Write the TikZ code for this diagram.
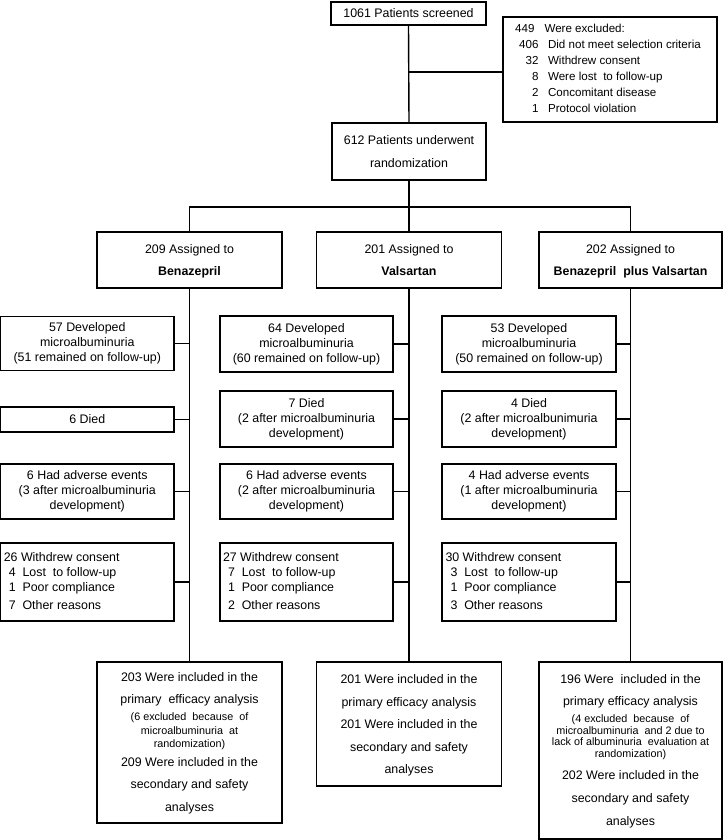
\documentclass[tikz,border=0pt]{standalone}
\usepackage{fontspec}
\setmainfont{Liberation Sans}
\newcommand\Rw[3]{\rule[-#2pt]{0pt}{\dimexpr#1pt+#2pt\relax}#3}
\newcommand\smf{\fontsize{10.8}{0}\selectfont}
\newcommand\cstack[1]{\begin{tabular}{@{}c@{}}#1\end{tabular}}
\newcommand\wlist[1]{\makebox[167pt][l]{\begin{tabular}{@{}l@{}}#1\end{tabular}}}
\begin{document}
\begin{tikzpicture}[x=1pt,y=-1pt,
  bx/.style n args={2}{draw, line width=1.4pt, inner sep=0pt, minimum width=#1, minimum height=#2, font=\fontsize{12.4}{15}\selectfont},
  conn/.style={line width=1.4pt}]
\useasboundingbox (0,0) rectangle (723,840);
% top
\node[bx={155pt}{23pt}] (scr) at (408.5,13.5) {1061 Patients screened};
\node[bx={214pt}{105pt}, font=\fontsize{11.6}{16}\selectfont] (exc) at (610,69.5)
  {\begin{tabular}{@{}r@{\hspace{9.5pt}}l@{}}\multicolumn{2}{@{}l@{}}{\hspace{-4pt}449\hspace{10pt}Were excluded:}\\
  406 & Did not meet selection criteria\\
  32 & Withdrew consent\\
  8 & Were lost\ \ to follow-up\\
  2 & Concomitant disease\\
  1 & Protocol violation\end{tabular}};
\node[bx={154pt}{57pt}, font=\fontsize{12.4}{23}\selectfont] (rnd) at (409,151.5) {\cstack{612 Patients underwent\\ randomization}};
% assignment
\node[bx={185pt}{56pt}, font=\fontsize{12.4}{22}\selectfont] (a1) at (189.5,260) {\cstack{209 Assigned to\\ \textbf{Benazepril}}};
\node[bx={185pt}{56pt}, font=\fontsize{12.4}{22}\selectfont] (a2) at (409,260) {\cstack{201 Assigned to\\ \textbf{Valsartan}}};
\node[bx={183pt}{56pt}, font=\fontsize{12.4}{22}\selectfont] (a3) at (630.5,260) {\cstack{202 Assigned to\\ \textbf{Benazepril\ \ plus Valsartan}}};
% developed
\node[bx={173.4pt}{54pt}] (d1) at (87.3,343.5) {\cstack{57 Developed\\ microalbuminuria\\ (51 remained on follow-up)}};
\node[bx={173pt}{56pt}] (d2) at (306.5,344) {\cstack{64 Developed\\ microalbuminuria\\ (60 remained on follow-up)}};
\node[bx={174pt}{56pt}] (d3) at (529,344) {\cstack{53 Developed\\ microalbuminuria\\ (50 remained on follow-up)}};
% died
\node[bx={173.4pt}{25pt}] (x1) at (87.3,419.5) {6 Died};
\node[bx={173pt}{56pt}] (x2) at (306.5,419) {\cstack{7 Died\\ (2 after microalbuminuria\\ development)}};
\node[bx={174pt}{56pt}] (x3) at (529,419) {\cstack{4 Died\\ (2 after microalbunimuria\\ development)}};
% adverse
\node[bx={173.4pt}{55pt}] (e1) at (87.3,491.5) {\cstack{6 Had adverse events\\ (3 after microalbuminuria\\ development)}};
\node[bx={173pt}{55pt}] (e2) at (306.5,491.5) {\cstack{6 Had adverse events\\ (2 after microalbuminuria\\ development)}};
\node[bx={174pt}{55pt}] (e3) at (529,491.5) {\cstack{4 Had adverse events\\ (1 after microalbuminuria\\ development)}};
% withdrew
\node[bx={173.4pt}{78pt}] (w1) at (87.3,582) {\wlist{26 Withdrew consent\\ \hspace{5pt}4\ \ Lost\ \ to follow-up\\ \hspace{5pt}1\ \ Poor compliance\\[3pt] \hspace{5pt}7\ \ Other reasons}};
\node[bx={173pt}{78pt}] (w2) at (306.5,582) {\wlist{27 Withdrew consent\\ \hspace{5pt}7\ \ Lost\ \ to follow-up\\ \hspace{5pt}1\ \ Poor compliance\\[3pt] \hspace{5pt}2\ \ Other reasons}};
\node[bx={174pt}{78pt}] (w3) at (529,582) {\wlist{30 Withdrew consent\\ \hspace{5pt}3\ \ Lost\ \ to follow-up\\ \hspace{5pt}1\ \ Poor compliance\\[3pt] \hspace{5pt}3\ \ Other reasons}};
% final
\node[bx={185pt}{161pt}, font=\fontsize{12.4}{0}\selectfont] (f1) at (189.5,742.5) {\cstack{%
  \Rw{15}{7}{203 Were included in the}\\
  \Rw{15}{7}{primary\ \ efficacy analysis}\\
  \Rw{10}{3.5}{\smf (6 excluded\ \ because\ \ of}\\
  \Rw{10}{3.5}{\smf microalbuminuria\ \ at}\\
  \Rw{10}{4}{\smf randomization)}\\
  \Rw{15}{7}{209 Were included in the}\\
  \Rw{15}{8}{secondary and safety}\\
  \Rw{15}{7}{analyses}}};
\node[bx={185pt}{124pt}, font=\fontsize{12.4}{0}\selectfont] (f2) at (409,724) {\cstack{%
  \Rw{15}{8}{201 Were included in the}\\
  \Rw{15}{7}{primary efficacy analysis}\\
  \Rw{15}{8}{201 Were included in the}\\
  \Rw{15}{7}{secondary and safety}\\
  \Rw{15}{7}{analyses}}};
\node[bx={183pt}{177pt}, font=\fontsize{12.4}{0}\selectfont] (f3) at (630.5,750.5) {\cstack{%
  \Rw{15}{7}{196 Were\ \ included in the}\\
  \Rw{15}{7}{primary efficacy analysis}\\
  \Rw{10}{2}{\smf (4 excluded\ \ because\ \ of}\\
  \Rw{9.7}{2}{\smf microalbuminuria\ \ and 2 due to}\\
  \Rw{9.7}{2}{\smf lack of albuminuria\ \ evaluation at}\\
  \Rw{9.7}{7}{\smf randomization)}\\
  \Rw{15}{8}{202 Were included in the}\\
  \Rw{15}{8}{secondary and safety}\\
  \Rw{15}{7}{analyses}}};
% connectors
\coordinate (j1) at (409,72);
\coordinate (bar) at (409,207);
\draw[conn] (scr.south) -- (rnd.north);
\draw[conn] (j1) -- (j1 -| exc.west);
\draw[conn] (rnd.south) -- (a2.north);
\draw[conn] (a1.north) -- (a1.north |- bar) -- (a3.north |- bar) -- (a3.north);
\draw[conn] (a1.south) -- (f1.north);
\draw[conn] (a2.south) -- (f2.north);
\draw[conn] (a3.south) -- (f3.north);
\foreach \r/\c in {d1/a1,x1/a1,e1/a1,w1/a1,d2/a2,x2/a2,e2/a2,w2/a2,d3/a3,x3/a3,e3/a3,w3/a3}
  \draw[conn] (\r.east) -- (\r.east -| \c.south);
\end{tikzpicture}
\end{document}
